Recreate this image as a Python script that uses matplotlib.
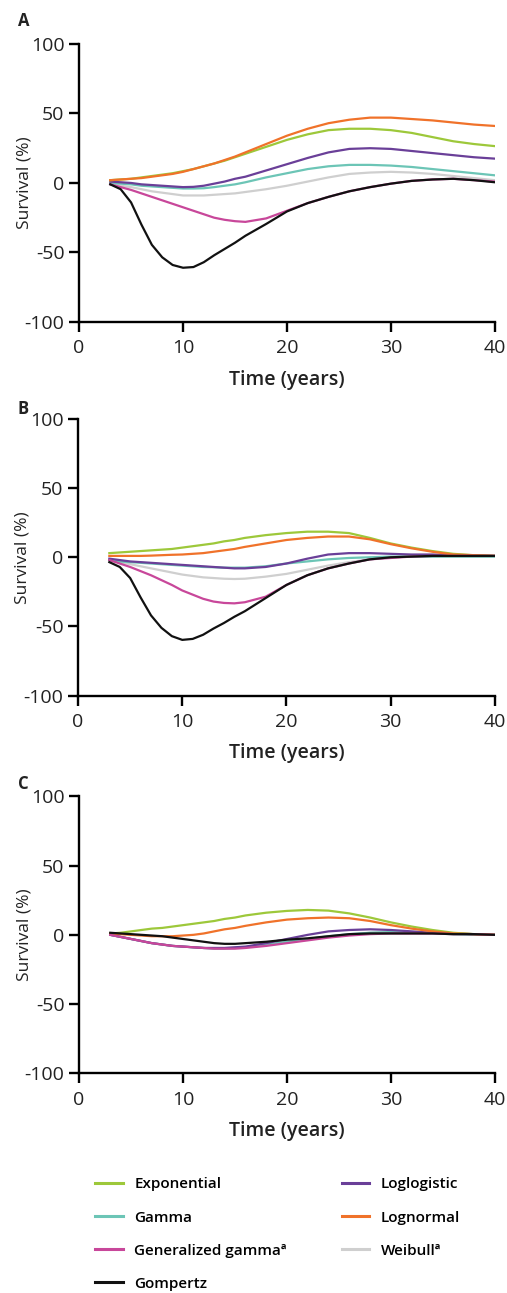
import numpy as np
import matplotlib.pyplot as plt
from matplotlib.lines import Line2D

plt.rcParams['font.family'] = ['Open Sans', 'DejaVu Sans']
plt.rcParams['axes.unicode_minus'] = False

# time grid (years) shared by every curve
years = [3, 4, 5, 6, 7, 8, 9, 10, 11, 12, 13, 14, 15, 16, 18, 20, 22, 24, 26, 28, 30, 32, 34, 36, 38, 40]

models = ['Exponential', 'Gamma', 'Generalized gammaª', 'Gompertz',
          'Loglogistic', 'Lognormal', 'Weibullª']
colors = ['#9dc83a', '#6cc5b6', '#c8479a', '#111111',
          '#6a3f98', '#f0722a', '#cfcfcf']

# Panel A
a_exponential = [2, 2.5, 3, 4, 5, 6, 7, 8.5, 10, 12, 14, 16, 18.5, 21, 26, 31, 35, 38, 39, 39, 38, 36, 33, 30, 28, 26.5]
a_gamma = [0, -0.5, -1, -2, -2.5, -3, -3.5, -4, -4, -3.8, -3, -2, -1, 0.5, 4, 7, 10, 12, 13, 13, 12.5, 11.5, 10, 8.5, 7, 5.5]
a_gengamma = [-1, -3, -5, -7.5, -10, -12.5, -15, -17.5, -20, -22.5, -25, -26.5, -27.5, -28, -25.5, -20, -14.5, -10, -6, -3, -0.5, 1.5, 2.5, 3, 2, 1]
a_gompertz = [-1, -4.5, -14, -30, -44.5, -53.5, -59, -61, -60.5, -57, -52, -47.5, -43, -38, -29.5, -20.5, -14.5, -10, -6, -3, -0.5, 1.5, 2.5, 3, 2, 0.5]
a_loglogistic = [1, 0.5, 0, -1, -1.5, -2, -2.5, -3, -2.8, -2, -0.5, 1, 3, 4.5, 9, 13.5, 18, 22, 24.5, 25, 24.5, 23, 21.5, 20, 18.5, 17.5]
a_lognormal = [2, 2.5, 3, 3.5, 4.5, 5.5, 6.5, 8, 10, 12, 14, 16.5, 19, 22, 28, 34, 39, 43, 45.5, 47, 47, 46, 45, 43.5, 42, 41]
a_weibull = [-1, -2, -3, -4.5, -6, -7, -8, -9, -9, -9, -8.5, -8, -7.5, -6.5, -4.5, -2, 1, 4, 6.5, 7.5, 8, 7.5, 6.5, 5, 3.5, 2]

# Panel B
b_exponential = [3, 3.5, 4, 4.5, 5, 5.5, 6, 7, 8, 9, 10, 11.5, 12.5, 14, 16, 17.5, 18.5, 18.5, 17.5, 14, 10, 7, 4.5, 2.5, 1.5, 1]
b_gamma = [-2, -3, -3.5, -4, -4.5, -5, -5.5, -6, -6.5, -7, -7.2, -7.5, -7.5, -7.5, -6.5, -4.5, -3, -1.5, -0.5, 0, 0.5, 0.5, 0.5, 0.5, 0.5, 0.5]
b_gengamma = [-2, -4.5, -7, -10, -13, -16.5, -20, -24, -27, -30, -32, -33, -33.3, -32.5, -28.5, -20, -13, -8, -4.5, -1.5, -0.5, 0.5, 1, 1, 1, 1]
b_gompertz = [-3.5, -7, -15, -29, -42, -51, -57, -59.7, -59, -56, -51.5, -47.5, -43, -39, -29.5, -20, -13, -8, -4.5, -1.5, 0, 0.5, 1, 1, 1, 1]
b_loglogistic = [-1, -2, -3, -3.5, -4, -4.5, -5, -5.5, -6, -6.5, -7, -7.5, -8, -8, -7, -4.5, -1, 2, 3, 3, 2.5, 2, 2, 1.5, 1.5, 1]
b_lognormal = [1, 1, 1, 1, 1.2, 1.5, 1.8, 2, 2.5, 3, 4, 5, 6, 7.5, 10, 12.5, 14, 15, 15, 13, 9.5, 6.5, 4, 2, 1.5, 1]
b_weibull = [-2, -3.5, -5, -6.5, -8, -9.5, -11, -12.5, -13.5, -14.5, -15, -15.5, -15.7, -15.5, -14, -12, -9, -6, -3.5, -1.5, 0, 0.5, 0.5, 0.5, 0.5, 0.5]

# Panel C
c_exponential = [1, 1.5, 2.5, 3.5, 4.5, 5, 6, 7, 8, 9, 10, 11.5, 12.5, 14, 16, 17.3, 18, 17.5, 15.5, 12.5, 9, 6, 3.5, 1.5, 0.5, 0]
c_gamma = [0, -1.5, -3, -4.5, -6, -7, -8, -8.5, -9, -9.5, -10, -10, -9.5, -9, -7, -5, -3, -1, 0.5, 1.5, 2, 1.5, 1, 0.5, 0, 0]
c_gengamma = [0, -1.5, -3, -4.5, -6, -7, -8, -8.5, -9, -9.5, -10, -10, -10, -9.5, -8, -6, -4, -2, -0.5, 0.5, 1, 1, 1, 0.5, 0.5, 0]
c_gompertz = [1.5, 1, 0.5, 0, -0.5, -1, -2, -3, -4, -5, -6, -6.5, -6.5, -6, -5, -3.5, -2.5, -1, 0.5, 1, 1, 1, 1, 0.5, 0.5, 0]
c_loglogistic = [0, -1.5, -3, -4.5, -6, -7, -8, -8.5, -9, -9.5, -9.5, -9.5, -9, -8.5, -6, -3, 0, 2.5, 3.5, 4, 3.5, 2.5, 1.5, 1, 0.5, 0]
c_lognormal = [1, 0.5, 0, -0.5, -1, -1, -1, -0.5, 0, 1, 2.5, 4, 5, 6.5, 9, 11, 12, 12.5, 12, 10, 7, 4.5, 2.5, 1, 0.5, 0]
c_weibull = [0, -1.5, -3, -4.5, -6, -7, -8, -8.5, -9, -9.5, -9.5, -9.5, -9.2, -9, -7.5, -5.5, -3.5, -1.5, 0, 1.5, 2, 2, 1.5, 1, 0.5, 0]

panels = {
    'A': [a_exponential, a_gamma, a_gengamma, a_gompertz, a_loglogistic, a_lognormal, a_weibull],
    'B': [b_exponential, b_gamma, b_gengamma, b_gompertz, b_loglogistic, b_lognormal, b_weibull],
    'C': [c_exponential, c_gamma, c_gengamma, c_gompertz, c_loglogistic, c_lognormal, c_weibull],
}

txt = '#222222'
fig = plt.figure(figsize=(5.07, 12.93), dpi=100)

# axes boxes [left, bottom, width, height] in figure fraction
boxes = {'A': [0.156, 0.751, 0.820, 0.215],
         'B': [0.154, 0.462, 0.822, 0.214],
         'C': [0.156, 0.170, 0.820, 0.214]}
letter_y = {'A': 0.984, 'B': 0.684, 'C': 0.394}

# draw order: grey first so it sits behind
order = [6, 1, 4, 0, 5, 2, 3]

for name, series in panels.items():
    ax = fig.add_axes(boxes[name])
    for z, i in enumerate(order):
        ax.plot(years, series[i], color=colors[i], lw=1.6, zorder=2 + z)
    ax.set_xlim(0, 40)
    ax.set_ylim(-100, 100)
    ax.set_xticks([0, 10, 20, 30, 40])
    ax.set_yticks([-100, -50, 0, 50, 100])
    for s in ['top', 'right']:
        ax.spines[s].set_visible(False)
    for s in ['left', 'bottom']:
        ax.spines[s].set_linewidth(1.7)
        ax.spines[s].set_color('black')
    ax.tick_params(width=1.7, length=7, labelsize=14, colors='black', labelcolor=txt)
    ax.tick_params(axis='x', pad=5.5)
    ax.tick_params(axis='y', pad=3.5)
    ax.set_xlabel('Time (years)', fontsize=14, fontweight='semibold', color=txt, labelpad=9)
    ax.set_ylabel('Survival (%)', fontsize=12.5, color=txt)
    ax.yaxis.set_label_coords(-0.113, 0.5)
    fig.text(0.035, letter_y[name], name, fontsize=12, fontweight='bold', color=txt, va='center')

handles = [Line2D([0], [0], color=c, lw=2.2) for c in colors]
fig.legend(handles, models, loc='upper left', bbox_to_anchor=(0.161, 0.1), ncol=2,
           frameon=False, handlelength=1.8, handletextpad=0.75,
           columnspacing=3.6, labelspacing=1.25, prop={'weight': 'semibold', 'size': 11})

fig.savefig('out.png', dpi=100)
